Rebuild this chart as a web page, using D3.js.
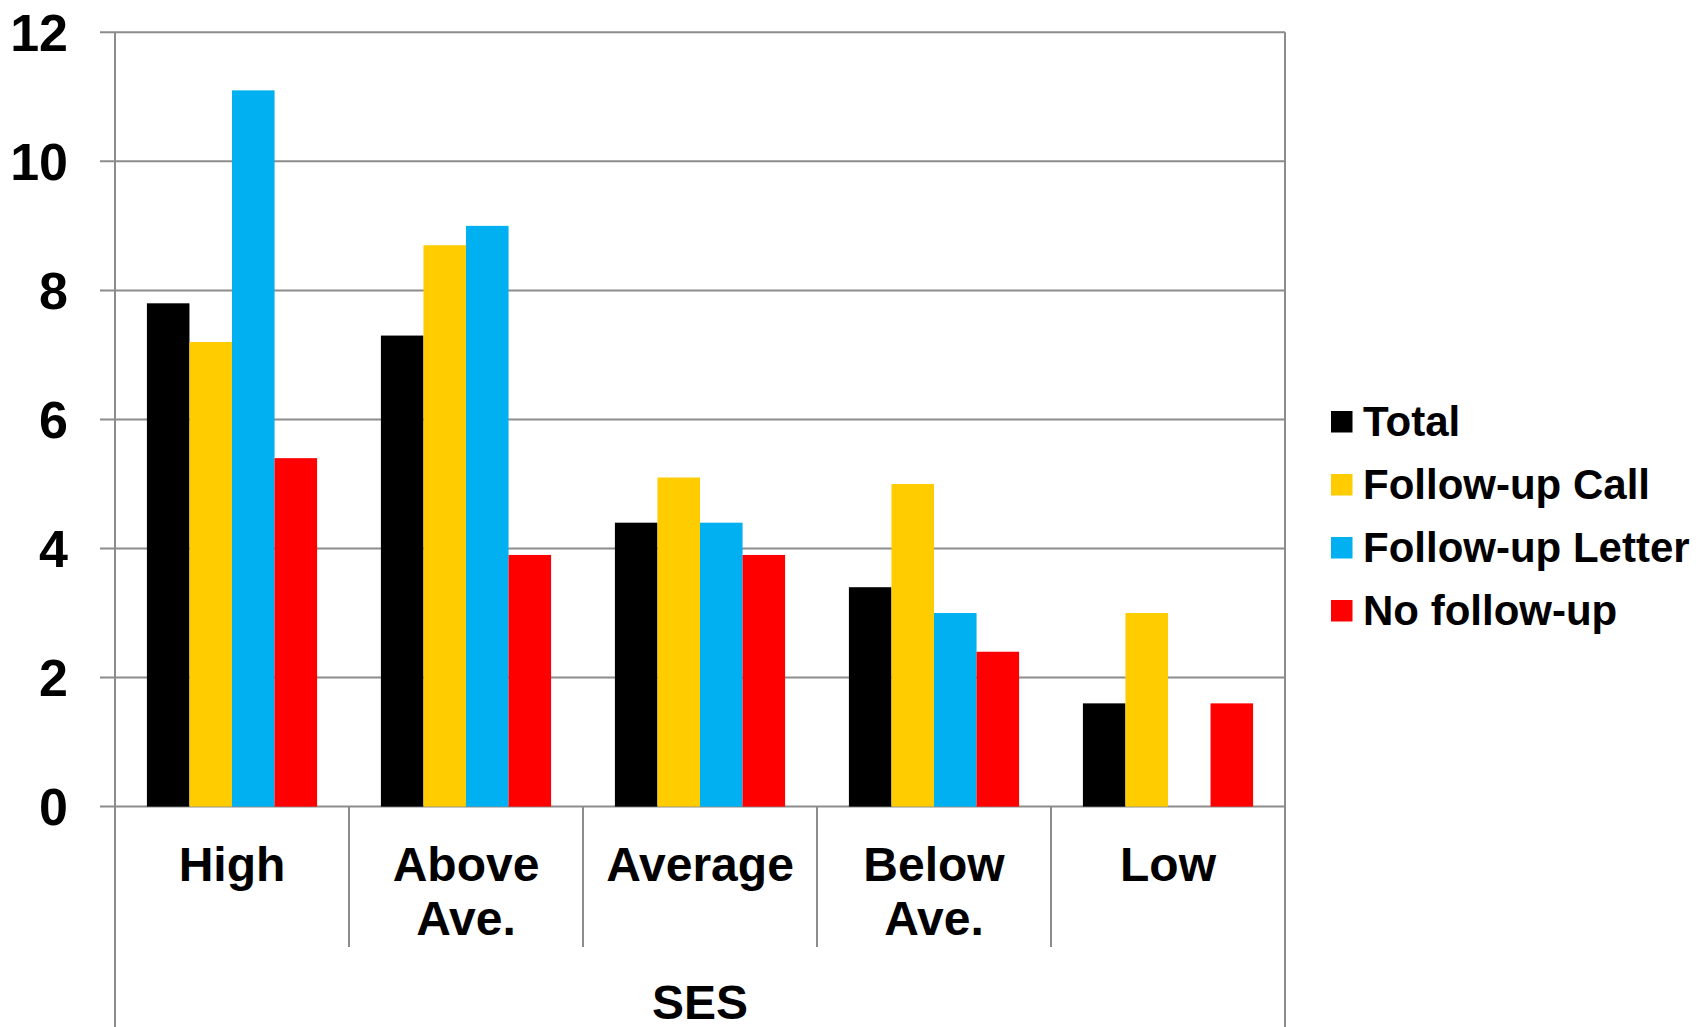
<!DOCTYPE html>
<html>
<head>
<meta charset="utf-8">
<script src="https://cdn.jsdelivr.net/npm/d3@7"></script>
<style>
  html, body { margin: 0; padding: 0; background: #fff; }
  svg { display: block; font-family: "Liberation Sans", Arial, sans-serif; font-weight: bold; }
</style>
</head>
<body>
<svg id="chart" width="1707" height="1027"></svg>
<script>
const categories = ["High", "Above Ave.", "Average", "Below Ave.", "Low"];
const categoryLines = [["High"], ["Above", "Ave."], ["Average"], ["Below", "Ave."], ["Low"]];
const seriesNames = ["Total", "Follow-up Call", "Follow-up Letter", "No follow-up"];
const seriesColors = ["#000000", "#FFCC00", "#00B0F0", "#FF0000"];
const total = [7.8, 7.3, 4.4, 3.4, 1.6];
const followUpCall = [7.2, 8.7, 5.1, 5.0, 3.0];
const followUpLetter = [11.1, 9.0, 4.4, 3.0, 0];
const noFollowUp = [5.4, 3.9, 3.9, 2.4, 1.6];
const yTicks = [0, 2, 4, 6, 8, 10, 12];
const axisTitle = "SES";

const seriesValues = [total, followUpCall, followUpLetter, noFollowUp];

const svg = d3.select("#chart");
const plotLeft = 115, plotRight = 1285, plotTop = 32.3, plotBottom = 806.6;
const gridColor = "#8c8c8c";

const x = d3.scaleBand().domain(categories).range([plotLeft, plotRight]).padding(0);
const xs = d3.scaleBand().domain(seriesNames).range([0, x.bandwidth()]).paddingInner(0).paddingOuter(0.75);
const y = d3.scaleLinear().domain([0, 12]).range([plotBottom, plotTop]);

// gridlines
svg.append("g").selectAll("line").data(yTicks).join("line")
  .attr("x1", 100).attr("x2", plotRight)
  .attr("y1", d => y(d)).attr("y2", d => y(d))
  .attr("stroke", gridColor).attr("stroke-width", 2);

// bars
const groups = svg.append("g").selectAll("g").data(categories).join("g")
  .attr("transform", d => `translate(${x(d)},0)`);
groups.selectAll("rect")
  .data((c, i) => seriesNames.map((s, j) => ({ s, j, v: seriesValues[j][i] })).filter(d => d.v > 0))
  .join("rect")
  .attr("x", d => xs(d.s))
  .attr("width", xs.bandwidth())
  .attr("y", d => y(d.v))
  .attr("height", d => y(0) - y(d.v))
  .attr("fill", d => seriesColors[d.j]);

// y axis
const yAxis = d3.axisLeft(y).tickValues(yTicks).tickSize(0).tickPadding(47)
  .tickFormat(d3.format("d"));
const ya = svg.append("g").attr("transform", `translate(${plotLeft},0)`).call(yAxis);
ya.select(".domain").remove();
ya.selectAll("text").attr("font-size", 52).attr("font-weight", "bold")
  .attr("font-family", "'Liberation Sans', Arial, sans-serif").attr("fill", "#000")
  .attr("dy", "0.35em");

// vertical axis line and right line
svg.append("line").attr("x1", plotLeft).attr("x2", plotLeft).attr("y1", plotTop).attr("y2", 1027)
  .attr("stroke", gridColor).attr("stroke-width", 2);
svg.append("line").attr("x1", plotRight).attr("x2", plotRight).attr("y1", plotTop).attr("y2", 1027)
  .attr("stroke", gridColor).attr("stroke-width", 2);

// category separators
svg.append("g").selectAll("line").data(categories.slice(1)).join("line")
  .attr("x1", d => x(d)).attr("x2", d => x(d))
  .attr("y1", plotBottom).attr("y2", 947)
  .attr("stroke", gridColor).attr("stroke-width", 2);

// category labels
const cl = svg.append("g").selectAll("text").data(categories).join("text")
  .attr("x", d => x(d) + x.bandwidth() / 2)
  .attr("y", 881)
  .attr("text-anchor", "middle")
  .attr("font-size", 48)
  .attr("fill", "#000");
cl.each(function(d, i) {
  const t = d3.select(this);
  categoryLines[i].forEach((line, k) => {
    t.append("tspan").attr("x", x(d) + x.bandwidth() / 2).attr("dy", k === 0 ? 0 : 54).text(line);
  });
});

// axis title
svg.append("text").attr("x", (plotLeft + plotRight) / 2).attr("y", 1019)
  .attr("text-anchor", "middle").attr("font-size", 48).attr("fill", "#000").text(axisTitle);

// legend
const lg = svg.append("g").selectAll("g").data(seriesNames).join("g")
  .attr("transform", (d, i) => `translate(1331, ${436 + i * 63})`);
lg.append("rect").attr("x", 0).attr("y", -25).attr("width", 21.5).attr("height", 21.5)
  .attr("fill", (d, i) => seriesColors[i]);
lg.append("text").attr("x", 32).attr("y", 0).attr("font-size", 42).attr("fill", "#000").text(d => d);
</script>
</body>
</html>
